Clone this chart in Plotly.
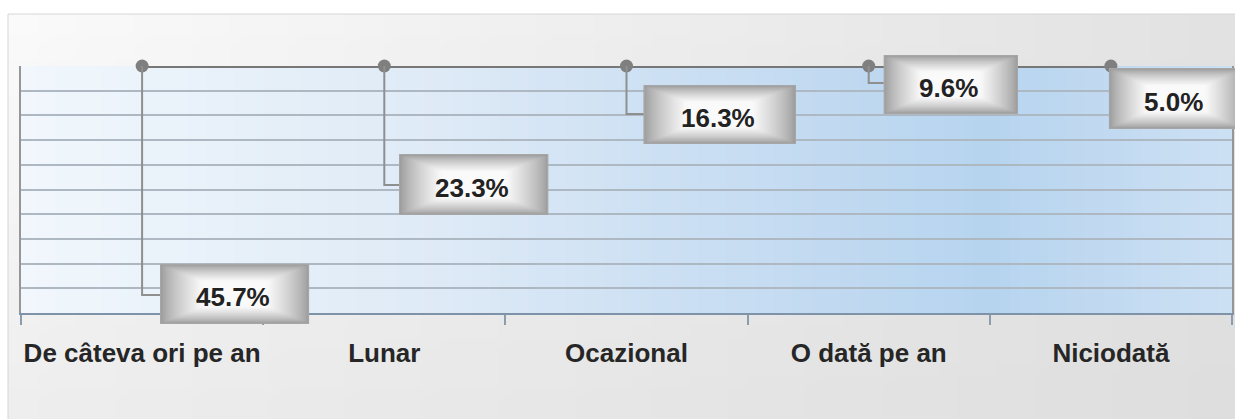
import base64
import struct
import zlib

import plotly.graph_objects as go

# ---------------- data ----------------
CATEGORIES = ["De câteva ori pe an", "Lunar", "Ocazional", "O dată pe an", "Niciodată"]
VALUES = [45.7, 23.3, 16.3, 9.6, 5.0]
Y_MAX = 5.0          # value axis maximum (values above it are clamped to the top edge)
Y_STEP = 0.5         # major unit -> gridlines

# ---------------- label box styling (pixels, relative to the data point) ----------------
LABEL_LEFT = [18, 15, 17, 15, -2]      # box left edge offset from marker
LABEL_TOP = [198, 88, 19, -11, 2]      # box top edge offset below marker
BOX_W = [149, 149, 152, 134, 134]
BOX_H = [60, 61, 59, 59, 61]
ELBOW_DY = [229, 119, 48, 17, None]    # depth of leader-line elbow

FONT = "Liberation Sans, Arial, sans-serif"

W, H = 1235, 419
ML, MR, MT, MB = 21, 3, 66, 106
PW, PH = W - ML - MR, H - MT - MB


def png_uri(w, h, func):
    rows = []
    for y in range(h):
        row = bytearray([0])
        for x in range(w):
            row.extend(func(x / (w - 1), y / (h - 1)))
        rows.append(bytes(row))
    raw = b"".join(rows)

    def chunk(tag, data):
        c = struct.pack(">I", len(data)) + tag + data
        return c + struct.pack(">I", zlib.crc32(tag + data) & 0xffffffff)

    png = b"\x89PNG\r\n\x1a\n"
    png += chunk(b"IHDR", struct.pack(">IIBBBBB", w, h, 8, 2, 0, 0, 0))
    png += chunk(b"IDAT", zlib.compress(raw, 9))
    png += chunk(b"IEND", b"")
    return "data:image/png;base64," + base64.b64encode(png).decode()


def lerp(a, b, t):
    return tuple(int(round(a[i] + (b[i] - a[i]) * t)) for i in range(3))


def stops(pts, t):
    for (t0, c0), (t1, c1) in zip(pts, pts[1:]):
        if t <= t1:
            return lerp(c0, c1, (t - t0) / (t1 - t0) if t1 > t0 else 0)
    return pts[-1][1]


def chart_bg(u, v):
    top = lerp((250, 250, 250), (226, 226, 226), u)
    bot = lerp((238, 238, 238), (222, 222, 222), u)
    return lerp(top, bot, v)


PLOT_STOPS = [(0.0, (241, 247, 252)), (0.35, (222, 234, 246)), (0.55, (203, 223, 243)),
              (0.8, (183, 212, 239)), (1.0, (204, 224, 243))]


def plot_bg(u, v):
    return stops(PLOT_STOPS, u)


def box_bg(u, v):
    # rectangular "path" gradient: grey edges, white centre
    d = max(abs(u - 0.5) * 2, abs(v - 0.5) * 2)
    t = max(0.0, min(1.0, (1 - d) * 1.8))
    return lerp((158, 158, 158), (250, 250, 250), t ** 0.8)


BOX_SRC = png_uri(60, 30, box_bg)

fig = go.Figure()

y_plot = [min(v, Y_MAX) for v in VALUES]

fig.add_trace(go.Scatter(
    x=CATEGORIES, y=y_plot, mode="lines+markers",
    line=dict(color="#777777", width=4),
    marker=dict(color="#7f7f7f", size=13),
    cliponaxis=False, hoverinfo="skip", showlegend=False,
))

shapes = []
annotations = []
images = []

# chart-area background + border
x0p = (8 - ML) / PW
y1p = (MT + PH - 14) / PH
images.append(dict(source=png_uri(64, 32, chart_bg), xref="paper", yref="paper",
                   x=x0p, y=y1p, sizex=(W - 8) / PW, sizey=(H - 14) / PH,
                   xanchor="left", yanchor="top", sizing="stretch", layer="below"))
images.append(dict(source=png_uri(128, 4, plot_bg), xref="paper", yref="paper",
                   x=0, y=1, sizex=1, sizey=1, xanchor="left", yanchor="top",
                   sizing="stretch", layer="below"))
shapes.append(dict(type="rect", xref="paper", yref="paper", x0=x0p, x1=1.2, y0=-1, y1=y1p,
                   line=dict(color="#d6d6d6", width=1), fillcolor="rgba(0,0,0,0)", layer="below"))

PX_X = PW / len(CATEGORIES)     # pixels per category
PX_Y = PH / Y_MAX               # pixels per value unit

for i, (cat, v, yp) in enumerate(zip(CATEGORIES, VALUES, y_plot)):
    e = ELBOW_DY[i]
    if e is not None:
        shapes.append(dict(
            type="path", xref="x", yref="y", xsizemode="pixel", ysizemode="pixel",
            xanchor=cat, yanchor=yp,
            path=f"M0,0 L0,{-e} L{LABEL_LEFT[i]},{-e}",
            line=dict(color="#8f8f8f", width=2), layer="above",
        ))
    bw, bh = BOX_W[i], BOX_H[i]
    cx = LABEL_LEFT[i] + bw / 2
    cy = -(LABEL_TOP[i] + bh / 2)
    px_left = (i + 0.5) * PX_X + LABEL_LEFT[i]
    py_top = PH - yp * PX_Y + LABEL_TOP[i]
    annotations.append(dict(
        x=cat, y=yp, xref="x", yref="y", showarrow=False,
        xanchor="center", yanchor="middle", xshift=cx, yshift=cy,
        text=" ", width=bw - 2, height=bh - 2, borderpad=0,
        bgcolor="rgba(0,0,0,0)", borderwidth=1, bordercolor="#a6a6a6",
    ))
    images.append(dict(
        source=BOX_SRC, xref="paper", yref="paper",
        x=px_left / PW, y=1 - py_top / PH, sizex=bw / PW, sizey=bh / PH,
        xanchor="left", yanchor="top", sizing="stretch", layer="above",
    ))
    annotations.append(dict(
        x=cat, y=yp, xref="x", yref="y", showarrow=False,
        xanchor="center", yanchor="middle", xshift=cx - 2, yshift=cy - 3,
        text=f"<b>{v:.1f}%</b>",
        font=dict(family=FONT, size=26, color="#222222"),
    ))

fig.update_layout(
    width=W, height=H,
    margin=dict(l=ML, r=MR, t=MT, b=MB, autoexpand=False),
    paper_bgcolor="white", plot_bgcolor="rgba(0,0,0,0)",
    shapes=shapes, annotations=annotations, images=images,
    showlegend=False,
)
fig.update_xaxes(
    type="category", range=[-0.5, len(CATEGORIES) - 0.5],
    tickson="boundaries", ticks="outside", ticklen=10, tickwidth=2, tickcolor="#8c9cad",
    showline=True, linecolor="#7f93a8", linewidth=2, showgrid=False,
    tickfont=dict(family=FONT, size=26, color="#262626", weight="bold"),
    tickangle=0, automargin=False, ticklabelstandoff=16,
)
fig.update_yaxes(
    range=[0, Y_MAX], dtick=Y_STEP, showticklabels=False, ticks="",
    showgrid=True, gridcolor="#adb8c3", gridwidth=2, zeroline=False,
    showline=True, mirror=True, linecolor="#969696", linewidth=2, automargin=False,
)

fig.write_html("out.html")
